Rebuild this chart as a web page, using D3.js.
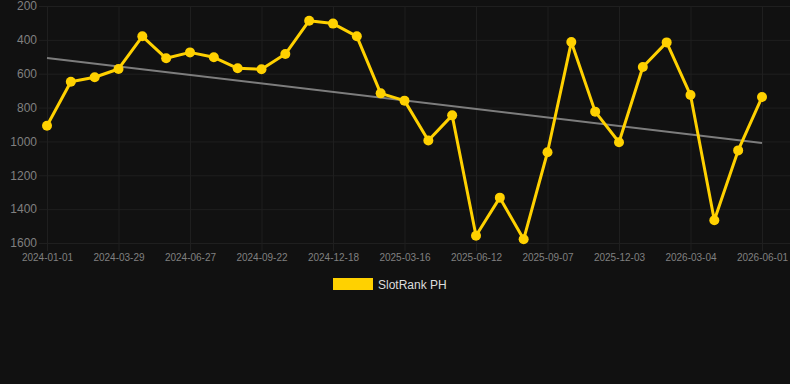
<!DOCTYPE html>
<html>
<head>
<meta charset="utf-8">
<script src="https://cdn.jsdelivr.net/npm/d3@7"></script>
<style>
  html, body { margin: 0; padding: 0; background: #111111; }
  svg { display: block; }
</style>
</head>
<body>
<svg id="chart" width="790" height="384"></svg>
<script>
const dates = [
  "2024-01-01","2024-01-30","2024-02-28","2024-03-29","2024-04-28","2024-05-28",
  "2024-06-27","2024-07-26","2024-08-24","2024-09-22","2024-10-21","2024-11-19",
  "2024-12-18","2025-01-16","2025-02-14","2025-03-16","2025-04-14","2025-05-14",
  "2025-06-12","2025-07-11","2025-08-09","2025-09-07","2025-10-06","2025-11-04",
  "2025-12-03","2026-01-02","2026-02-02","2026-03-04","2026-04-03","2026-05-03",
  "2026-06-01"
];
const rankValues = [
  907, 647, 621, 572, 379, 509, 474, 503, 568, 574, 484, 287,
  304, 379, 716, 759, 995, 846, 1557, 1332, 1578, 1064, 413, 824,
  1005, 560, 415, 726, 1466, 1053, 738
];
const trendValues = [507, 1009];
const yTicks = [200, 400, 600, 800, 1000, 1200, 1400, 1600];
const xTickLabels = ["2024-01-01","2024-03-29","2024-06-27","2024-09-22","2024-12-18",
  "2025-03-16","2025-06-12","2025-09-07","2025-12-03","2026-03-04","2026-06-01"];
const seriesName = "SlotRank PH";

(function () {
const svg = d3.select("#chart");
const plotLeft = 47, plotRight = 762, plotTop = 6, plotBottom = 243, gridRight = 790;

const x = d3.scalePoint().domain(dates).range([plotLeft, plotRight]);
const y = d3.scaleLinear().domain([200, 1600]).range([plotTop, plotBottom]);

svg.append("rect").attr("width", 790).attr("height", 384).attr("fill", "#111111");

// horizontal grid
const yAxis = d3.axisLeft(y).tickValues(yTicks).tickFormat(d3.format("d")).tickSize(0).tickPadding(10);
const gy = svg.append("g").attr("transform", `translate(${plotLeft},0)`).call(yAxis);
gy.select(".domain").remove();
gy.selectAll(".tick line").attr("stroke", "#1f1f1f").attr("stroke-width", 1).attr("x1", -8).attr("x2", gridRight - plotLeft);
gy.selectAll(".tick text").attr("fill", "#808080").attr("font-family", "Liberation Sans, Arial, sans-serif").attr("font-size", 12).attr("x", -10);

// vertical grid
const xAxis = d3.axisBottom(x).tickValues(xTickLabels).tickSize(0).tickPadding(10);
const gx = svg.append("g").attr("transform", `translate(0,${plotBottom})`).call(xAxis);
gx.select(".domain").remove();
gx.selectAll(".tick line").attr("stroke", "#1f1f1f").attr("y1", -(plotBottom - plotTop)).attr("y2", 8);
gx.selectAll(".tick text").attr("fill", "#808080").attr("font-family", "Liberation Sans, Arial, sans-serif").attr("font-size", 10).attr("dy", "0.71em").attr("y", 11);

// trend line
svg.append("line")
  .attr("x1", x(dates[0])).attr("y1", y(trendValues[0]))
  .attr("x2", x(dates[dates.length - 1])).attr("y2", y(trendValues[1]))
  .attr("stroke", "#7d7d7d").attr("stroke-width", 2);

// data line
const line = d3.line().x((d, i) => x(dates[i])).y(d => y(d));
svg.append("path").datum(rankValues).attr("d", line)
  .attr("fill", "none").attr("stroke", "#FFD100").attr("stroke-width", 3).attr("stroke-linejoin", "round");

svg.append("g").selectAll("circle").data(rankValues).join("circle")
  .attr("cx", (d, i) => x(dates[i])).attr("cy", d => y(d)).attr("r", 5)
  .attr("fill", "#FFD100");

// legend
svg.append("rect").attr("x", 333).attr("y", 278).attr("width", 40).attr("height", 12).attr("fill", "#FFD100");
svg.append("text").attr("x", 378).attr("y", 289).text(seriesName)
  .attr("fill", "#dddddd").attr("font-family", "Liberation Sans, Arial, sans-serif").attr("font-size", 12);
})();
</script>
</body>
</html>
